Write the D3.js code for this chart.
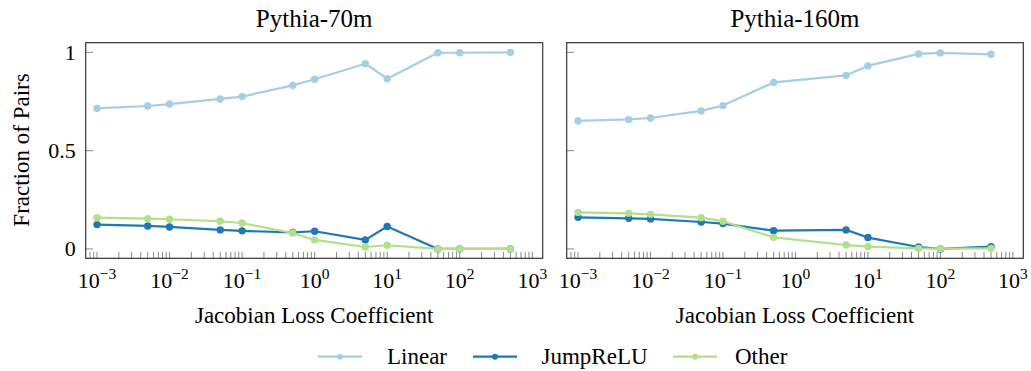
<!DOCTYPE html>
<html>
<head>
<meta charset="utf-8">
<script src="https://cdn.jsdelivr.net/npm/d3@7"></script>
<style>
  html, body { margin: 0; padding: 0; background: #fff; }
  svg { display: block; }
</style>
</head>
<body>
<svg id="chart" width="1031" height="371"></svg>
<script>
// Jacobian loss coefficients swept for each model
const coeffs70m  = [0.001, 0.005, 0.01, 0.05, 0.1, 0.5, 1, 5, 10, 50, 100, 500];
const coeffs160m = [0.001, 0.005, 0.01, 0.05, 0.1, 0.5, 5, 10, 50, 100, 500];

// Fraction of pairs per category, Pythia-70m
const linear70m   = [0.715, 0.727, 0.737, 0.763, 0.775, 0.832, 0.863, 0.942, 0.866, 0.998, 0.998, 1.0];
const jumprelu70m = [0.124, 0.117, 0.112, 0.097, 0.092, 0.084, 0.090, 0.046, 0.114, 0.0, 0.0, 0.0];
const other70m    = [0.159, 0.154, 0.151, 0.141, 0.132, 0.081, 0.046, 0.010, 0.019, 0.0, 0.0, 0.0];

// Fraction of pairs per category, Pythia-160m
const linear160m   = [0.651, 0.659, 0.666, 0.702, 0.729, 0.847, 0.883, 0.931, 0.992, 0.997, 0.990];
const jumprelu160m = [0.161, 0.156, 0.153, 0.137, 0.129, 0.093, 0.097, 0.058, 0.010, 0.0, 0.012];
const other160m    = [0.186, 0.181, 0.176, 0.159, 0.141, 0.059, 0.020, 0.012, 0.003, 0.002, 0.003];

const panelTitles = ["Pythia-70m", "Pythia-160m"];
const seriesNames = ["Linear", "JumpReLU", "Other"];
const seriesColors = ["#a6cee3", "#1f78b4", "#b2df8a"];
const xTickExponents = [-3, -2, -1, 0, 1, 2, 3];
const yTickValues = [0, 0.5, 1];
const yTickLabels = ["0", "0.5", "1"];
const xLabel = "Jacobian Loss Coefficient";
const yLabel = "Fraction of Pairs";

const FONT = "'Liberation Serif', 'DejaVu Serif', 'Times New Roman', serif";

const panels = [
  { title: panelTitles[0], x: coeffs70m,  series: [linear70m, jumprelu70m, other70m],   left: 85.7,  right: 542.7, yLabels: true },
  { title: panelTitles[1], x: coeffs160m, series: [linear160m, jumprelu160m, other160m], left: 566.7, right: 1023.3, yLabels: false }
];

const plotTop = 42.7, plotBottom = 258.3;
const svg = d3.select("#chart");
svg.append("rect").attr("width", 1031).attr("height", 371).attr("fill", "#fff");

const y = d3.scaleLinear().domain([-0.0475, 1.049]).range([plotBottom, plotTop]);

function label(sel, size) {
  return sel.attr("font-family", FONT).attr("font-size", size).attr("fill", "#000");
}

panels.forEach(p => {
  const x = d3.scaleLog()
    .domain([Math.pow(10, -3.156), Math.pow(10, 3.144)])
    .range([p.left, p.right]);
  const g = svg.append("g");

  // minor + major ticks on the x axis, drawn inside the frame
  const tickVals = [];
  for (let e = -4; e <= 3; e++) {
    for (let k = 1; k <= 9; k++) {
      const v = k * Math.pow(10, e);
      const px = x(v);
      if (px >= p.left + 0.5 && px <= p.right - 0.5) tickVals.push(v);
    }
  }
  g.selectAll("line.xtick").data(tickVals).join("line")
    .attr("class", "xtick")
    .attr("x1", d => x(d)).attr("x2", d => x(d))
    .attr("y1", plotBottom).attr("y2", plotBottom - 6.5)
    .attr("stroke", "#8a8a8a").attr("stroke-width", 1);

  // y ticks
  g.selectAll("line.ytick").data(yTickValues).join("line")
    .attr("class", "ytick")
    .attr("x1", p.left).attr("x2", p.left + 7.5)
    .attr("y1", d => y(d)).attr("y2", d => y(d))
    .attr("stroke", "#8a8a8a").attr("stroke-width", 1);

  // frame
  g.append("rect")
    .attr("x", p.left).attr("y", plotTop)
    .attr("width", p.right - p.left).attr("height", plotBottom - plotTop)
    .attr("fill", "none").attr("stroke", "#333").attr("stroke-width", 1.2);

  // x tick labels 10^e
  xTickExponents.forEach(e => {
    const t = label(g.append("text"), 22)
      .attr("x", x(Math.pow(10, e)))
      .attr("y", 288)
      .attr("text-anchor", "middle");
    t.append("tspan").text("10");
    t.append("tspan").attr("dy", -9).attr("font-size", 15.5)
      .text(e < 0 ? "\u2212" + Math.abs(e) : String(e));
  });

  // y tick labels
  if (p.yLabels) {
    yTickValues.forEach((v, i) => {
      label(g.append("text"), 22)
        .attr("x", p.left - 10)
        .attr("y", y(v) + 7.5)
        .attr("text-anchor", "end")
        .text(yTickLabels[i]);
    });
  }

  // panel title
  label(g.append("text"), 25)
    .attr("x", (p.left + p.right) / 2).attr("y", 27)
    .attr("text-anchor", "middle")
    .text(p.title);

  // x axis label
  label(g.append("text"), 23)
    .attr("x", (p.left + p.right) / 2).attr("y", 322.7)
    .attr("text-anchor", "middle")
    .text(xLabel);

  // series lines + markers
  const line = d3.line().x((d, i) => x(p.x[i])).y(d => y(d));
  p.series.forEach((vals, si) => {
    g.append("path")
      .datum(vals)
      .attr("d", line)
      .attr("fill", "none")
      .attr("stroke", seriesColors[si])
      .attr("stroke-width", 2.2)
      .attr("stroke-linejoin", "round");
    g.selectAll("circle.s" + si).data(vals).join("circle")
      .attr("class", "s" + si)
      .attr("cx", (d, i) => x(p.x[i]))
      .attr("cy", d => y(d))
      .attr("r", 3.7)
      .attr("fill", seriesColors[si]);
  });
});

// y axis label
label(svg.append("text"), 23)
  .attr("transform", `translate(28.5, ${(plotTop + plotBottom) / 2 - 0.5}) rotate(-90)`)
  .attr("text-anchor", "middle")
  .text(yLabel);

// legend
const legendItems = [
  { lx: 318, tx: 387 },
  { lx: 473, tx: 541.5 },
  { lx: 673, tx: 735 }
];
const legendY = 356.7;
const lg = svg.append("g");
seriesNames.forEach((name, i) => {
  const it = legendItems[i];
  lg.append("line")
    .attr("x1", it.lx).attr("x2", it.lx + 44)
    .attr("y1", legendY).attr("y2", legendY)
    .attr("stroke", seriesColors[i]).attr("stroke-width", 2.2);
  lg.append("circle")
    .attr("cx", it.lx + 22).attr("cy", legendY).attr("r", 3)
    .attr("fill", seriesColors[i]);
  label(lg.append("text"), 23)
    .attr("x", it.tx).attr("y", legendY + 7)
    .text(name);
});
</script>
</body>
</html>
